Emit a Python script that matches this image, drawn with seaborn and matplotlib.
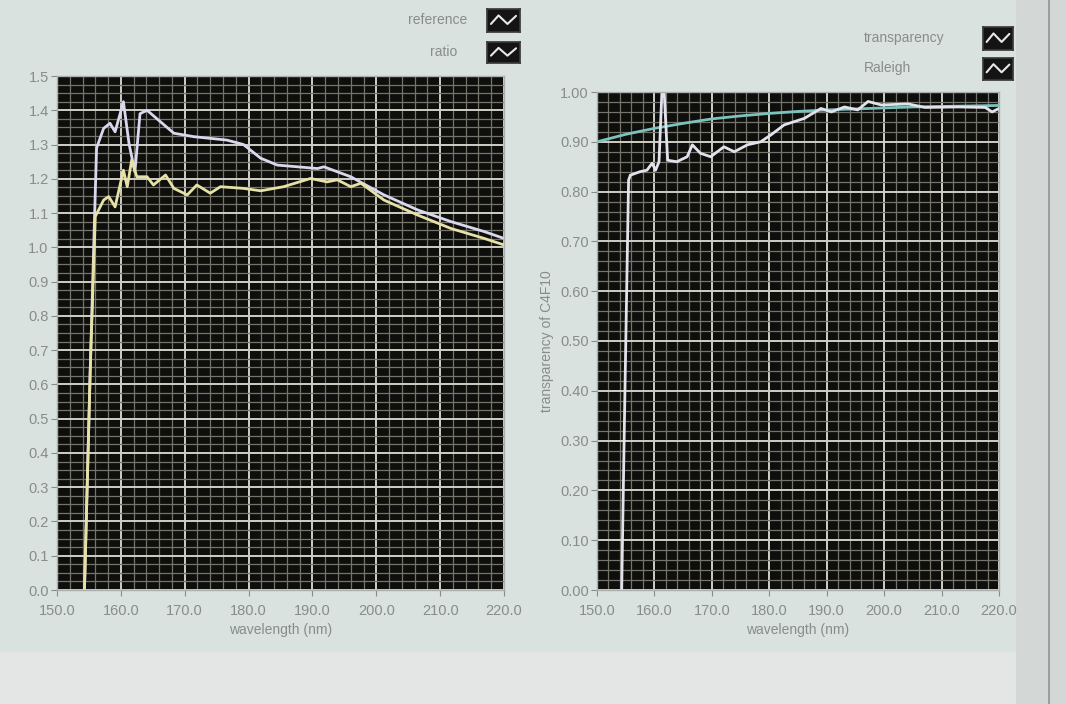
import matplotlib
matplotlib.use("Agg")
import matplotlib.pyplot as plt
import seaborn as sns
import pandas as pd
from matplotlib.ticker import MultipleLocator, FormatStrFormatter
from matplotlib.patches import Rectangle

# ---------------- data ----------------
ref_wl = [154.3, 155.2, 155.9, 156.2, 157.3, 158.3, 159.1, 160.4, 161.3, 162.2, 163.0, 164.1,
          165.6, 168.3, 171.4, 176.6, 179.2, 181.9, 184.5, 190.8, 191.8, 196.0, 201.2, 206.5,
          211.7, 216.9, 220.0]
ref_val = [0.0, 0.64, 1.10, 1.29, 1.347, 1.362, 1.337, 1.425, 1.30, 1.22, 1.39, 1.40,
           1.376, 1.333, 1.323, 1.313, 1.30, 1.26, 1.24, 1.23, 1.235, 1.206, 1.153, 1.109,
           1.075, 1.046, 1.026]

ratio_wl = [154.3, 155.2, 156.0, 157.3, 158.1, 159.1, 160.4, 161.0, 161.7, 162.5, 164.1, 165.1,
            167.0, 168.3, 170.4, 171.9, 174.0, 175.6, 179.2, 181.9, 185.5, 189.7, 192.3, 193.9,
            196.0, 197.6, 201.2, 206.5, 211.7, 216.9, 220.0]
ratio_val = [0.0, 0.64, 1.09, 1.138, 1.148, 1.118, 1.225, 1.177, 1.255, 1.206, 1.206, 1.182,
             1.211, 1.172, 1.153, 1.182, 1.158, 1.177, 1.172, 1.165, 1.177, 1.201, 1.191, 1.197,
             1.177, 1.187, 1.138, 1.094, 1.055, 1.026, 1.007]

tr_wl = [154.3, 154.8, 155.5, 155.8, 157.5, 158.7, 159.6, 160.2, 160.8, 161.3, 161.7, 162.3,
         163.9, 165.7, 166.6, 168.0, 169.8, 172.1, 173.9, 176.2, 178.5, 180.3, 182.6, 186.1,
         189.0, 190.8, 193.1, 195.4, 197.2, 199.5, 204.2, 207.1, 212.9, 217.6, 218.8, 220.0]
tr_val = [0.0, 0.355, 0.823, 0.833, 0.84, 0.843, 0.857, 0.843, 0.86, 1.0, 1.0, 0.863,
          0.860, 0.870, 0.894, 0.877, 0.870, 0.890, 0.880, 0.894, 0.900, 0.914, 0.934, 0.947,
          0.967, 0.960, 0.970, 0.964, 0.981, 0.974, 0.976, 0.969, 0.970, 0.969, 0.960, 0.967]

ral_wl = [150, 155, 160, 165, 170, 175, 180, 185, 190, 195, 200, 205, 210, 215, 220]
ral_val = [0.900, 0.915, 0.927, 0.937, 0.946, 0.952, 0.957, 0.961, 0.964, 0.966, 0.968,
           0.970, 0.971, 0.972, 0.973]

left_legend = ["reference", "ratio"]
right_legend = ["transparency", "Raleigh"]
x_label = "wavelength (nm)"
right_ylabel = "transparency of C4F10"

# ---------------- style ----------------
sns.set_theme(style="dark")
plt.rcParams["font.family"] = ["Liberation Sans", "DejaVu Sans"]

BG = "#d9e2df"
PLOT_BG = "#0e0e0c"
TXT = "#868d8a"
MAJ = "#cfcfc6"
MIN = "#75746b"
C_REF = "#d9d8ee"
C_RATIO = "#e6e2a6"
C_TR = "#e2e2ec"
C_RAL = "#7cc3be"

W, H = 1066, 704
fig = plt.figure(figsize=(W / 100, H / 100), dpi=100, facecolor=BG)

# panel surroundings (photo of a screen)
fig.patches.append(Rectangle((0, 0), 1, 1 - 652 / H, transform=fig.transFigure,
                             facecolor="#e3e6e4", edgecolor="none", zorder=-5))
fig.patches.append(Rectangle((1016 / W, 0), 1 - 1016 / W, 1, transform=fig.transFigure,
                             facecolor="#d3d8d7", edgecolor="none", zorder=-4))
fig.patches.append(Rectangle((1048 / W, 0), 2 / W, 1, transform=fig.transFigure,
                             facecolor="#9a9e9d", edgecolor="none", zorder=-3))


def fax(x0, y0, x1, y1):
    return fig.add_axes([x0 / W, 1 - y1 / H, (x1 - x0) / W, (y1 - y0) / H])


ax1 = fax(57, 76, 504, 590)
ax2 = fax(597, 92, 999, 590)


def style(ax, ymax, ymaj, ymin, yfmt):
    ax.set_facecolor(PLOT_BG)
    ax.set_xlim(150, 220)
    ax.set_ylim(0, ymax)
    ax.xaxis.set_major_locator(MultipleLocator(10))
    ax.xaxis.set_minor_locator(MultipleLocator(2))
    ax.yaxis.set_major_locator(MultipleLocator(ymaj))
    ax.yaxis.set_minor_locator(MultipleLocator(ymin))
    ax.xaxis.set_major_formatter(FormatStrFormatter("%.1f"))
    ax.yaxis.set_major_formatter(FormatStrFormatter(yfmt))
    ax.grid(True, which="major", color=MAJ, lw=1.4)
    ax.grid(True, which="minor", color=MIN, lw=0.9)
    ax.set_axisbelow(True)
    ax.tick_params(which="major", colors=TXT, labelsize=10.5, length=4, width=0.8,
                   direction="out", bottom=True, left=True, pad=2)
    ax.tick_params(axis="x", which="major", pad=6)
    ax.tick_params(which="minor", length=0)
    for s in ax.spines.values():
        s.set_color("#a9afad")
        s.set_linewidth(1.0)
    ax.set_xlabel(x_label, color=TXT, fontsize=10, labelpad=4)


style(ax1, 1.5, 0.1, 0.025, "%.1f")
style(ax2, 1.0, 0.1, 0.02, "%.2f")

sns.lineplot(x=ref_wl, y=ref_val, ax=ax1, color=C_REF, lw=2.0, sort=False, estimator=None)
sns.lineplot(x=ratio_wl, y=ratio_val, ax=ax1, color=C_RATIO, lw=2.0, sort=False, estimator=None)
sns.lineplot(x=ral_wl, y=ral_val, ax=ax2, color=C_RAL, lw=2.0, sort=False, estimator=None)
sns.lineplot(x=tr_wl, y=tr_val, ax=ax2, color=C_TR, lw=2.0, sort=False, estimator=None)
ax1.set_ylabel("")
ax2.set_ylabel(right_ylabel, color=TXT, fontsize=10, labelpad=4)


# ---------------- legends (LabVIEW plot legend style) ----------------
def legend_item(text, tx, ty, box):
    fig.text(tx / W, 1 - ty / H, text, color=TXT, fontsize=10, ha="left", va="center")
    iax = fax(*box)
    iax.set_facecolor("#141414")
    iax.set_xticks([])
    iax.set_yticks([])
    for s in iax.spines.values():
        s.set_color("#3a3a3a")
    iax.plot([0.12, 0.35, 0.62, 0.88], [0.35, 0.72, 0.35, 0.70], color="#e8e8e8", lw=1.5)
    iax.set_xlim(0, 1)
    iax.set_ylim(0, 1)


legend_item(left_legend[0], 408, 20, (487, 9, 520, 32))
legend_item(left_legend[1], 430, 52, (487, 42, 520, 63))
legend_item(right_legend[0], 864, 38, (983, 27, 1013, 50))
legend_item(right_legend[1], 864, 68, (983, 58, 1013, 80))

fig.savefig("out.png", dpi=100, facecolor=BG)
